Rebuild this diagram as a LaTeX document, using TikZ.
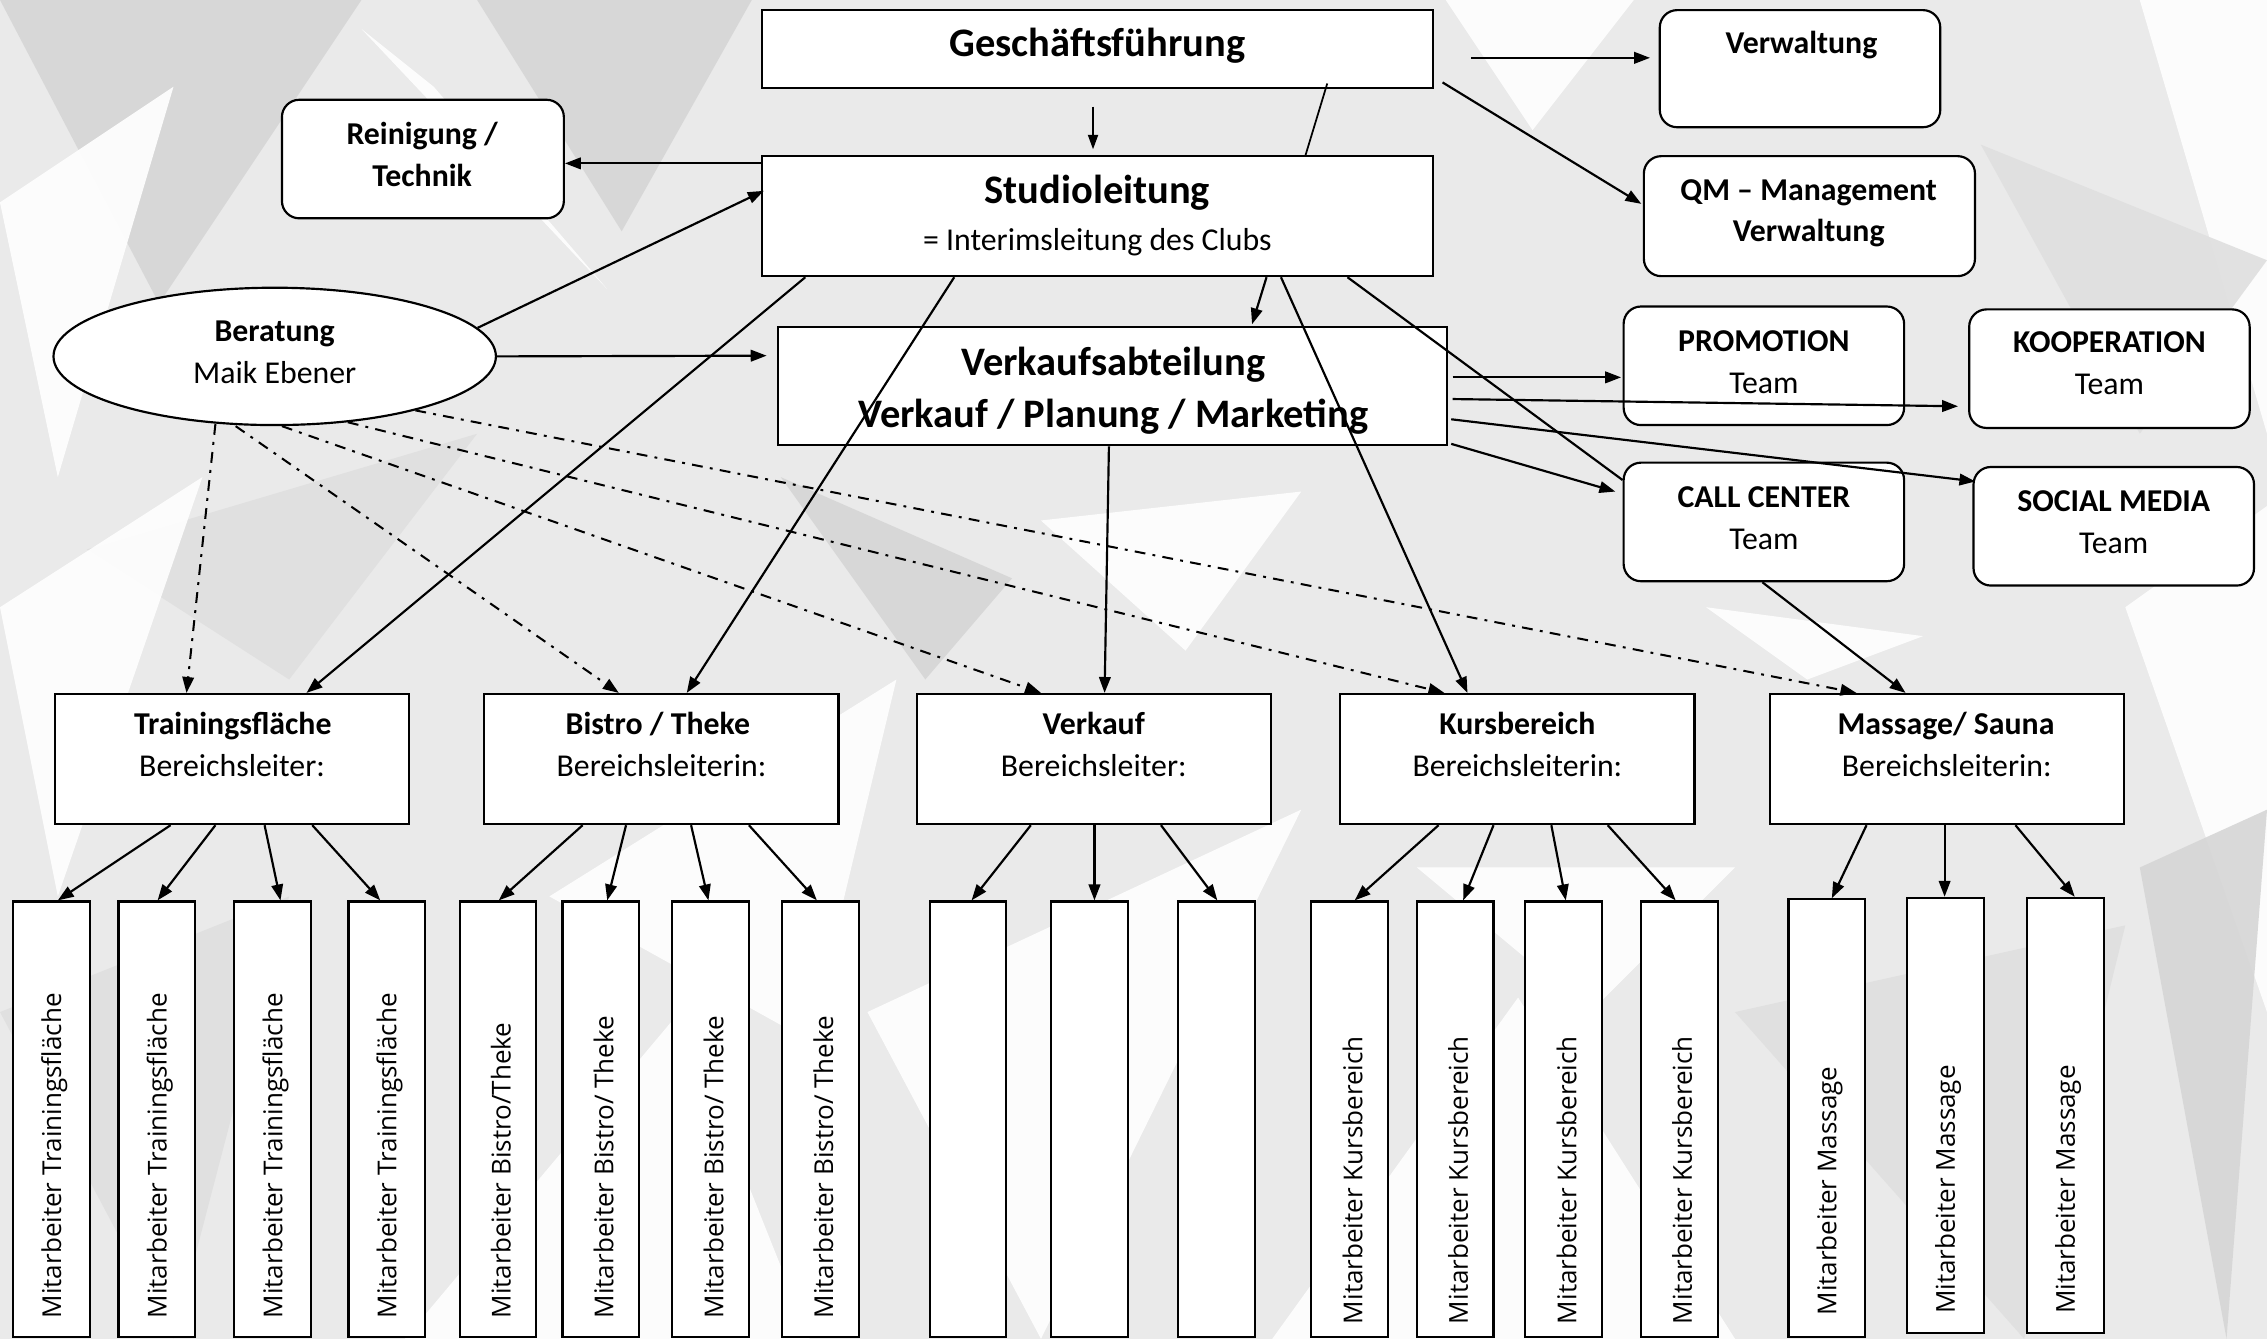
\documentclass[tikz,border=0pt]{standalone}
\usepackage{fontspec}
\setmainfont{Carlito}
\newfontfamily\verd{Open Sans}
\usetikzlibrary{arrows.meta,shapes.geometric}
\definecolor{bgbase}{RGB}{234,234,234}
\definecolor{bgdark}{RGB}{214,214,214}
\definecolor{bgmid}{RGB}{223,223,223}
\begin{document}
\begin{tikzpicture}[x=1pt,y=-1pt,
  box/.style={draw=black, fill=white, line width=1.5pt, inner sep=0pt},
  rbox/.style={box, rounded corners=12pt},
  conn/.style={line width=1.5pt, -{Triangle[length=11pt,width=8pt]}},
  dd/.style={line width=1.4pt, dash pattern=on 7.5pt off 5pt on 2pt off 5pt, -{Triangle[length=11pt,width=8pt]}},
  big/.style={font=\fontsize{28}{32}\selectfont\bfseries, anchor=base, inner sep=0pt},
  sb/.style={font=\fontsize{22}{26}\selectfont\bfseries, anchor=base, inner sep=0pt},
  sm/.style={font=\fontsize{22}{26}\selectfont, anchor=base, inner sep=0pt},
  vt/.style={font=\verd\fontsize{18}{21}\selectfont, rotate=90, anchor=west, inner sep=0pt}
]
\useasboundingbox (0,0) rectangle (1568,926);
% background texture
\fill[bgbase] (0,0) rectangle (1568,926);
\begin{scope}[opacity=0.9]
\fill[bgdark] (0,0) -- (250,0) -- (110,210) -- cycle;
\fill[white] (0,140) -- (120,60) -- (40,330) -- cycle;
\fill[bgdark] (330,0) -- (520,0) -- (430,160) -- cycle;
\fill[white] (250,20) -- (420,200) -- (300,60) -- cycle;
\fill[bgmid] (60,380) -- (330,300) -- (200,470) -- cycle;
\fill[white] (0,420) -- (140,330) -- (40,620) -- cycle;
\fill[white] (380,620) -- (620,470) -- (560,720) -- cycle;
\fill[white] (600,700) -- (900,560) -- (720,926) -- cycle;
\fill[bgdark] (540,330) -- (700,400) -- (640,470) -- cycle;
\fill[white] (1000,0) -- (1130,0) -- (1060,90) -- cycle;
\fill[white] (1480,0) -- (1568,0) -- (1568,300) -- cycle;
\fill[bgmid] (1370,100) -- (1568,180) -- (1480,300) -- cycle;
\fill[white] (1470,420) -- (1568,350) -- (1568,700) -- cycle;
\fill[white] (280,926) -- (470,700) -- (560,926) -- cycle;
\fill[white] (880,926) -- (1050,690) -- (1200,926) -- cycle;
\fill[bgdark] (1480,600) -- (1568,560) -- (1540,926) -- cycle;
\fill[white] (1180,420) -- (1330,440) -- (1250,470) -- cycle;
\fill[bgmid] (0,700) -- (200,620) -- (120,926) -- cycle;
\fill[white] (980,600) -- (1200,600) -- (1100,700) -- cycle;
\fill[bgmid] (1200,700) -- (1470,640) -- (1400,926) -- cycle;
\fill[white] (720,360) -- (900,340) -- (820,450) -- cycle;
\end{scope}

% top level
\node[box, minimum width=464pt, minimum height=54pt] (gf) at (759,34) {};
\node[big] (tgf) at (759,39) {Geschäftsführung};
\node[rbox, minimum width=194pt, minimum height=81pt] (verw) at (1245,47.5) {};
\node[sb] (tverw) at (1246,37) {Verwaltung};
\node[rbox, minimum width=195pt, minimum height=82pt] (rein) at (292.5,110) {};
\node[sb] (trein1) at (292,100) {Reinigung /};
\node[sb] (trein2) at (292,129) {Technik};
\node[box, minimum width=464pt, minimum height=83pt] (studio) at (759,149.5) {};
\node[big] (tstudio1) at (759,141) {Studioleitung};
\node[sm] (tstudio2) at (759,173) {= Interimsleitung des Clubs};
\node[rbox, minimum width=229pt, minimum height=83pt] (qm) at (1251.5,149.5) {};
\node[sb] (tqm1) at (1251,139) {QM – Management};
\node[sb] (tqm2) at (1251,167) {Verwaltung};
\node[draw=black, fill=white, ellipse, line width=1.5pt, inner sep=0pt, minimum width=306pt, minimum height=95pt] (bera) at (190,246.5) {};
\node[sb] (tbera1) at (190,236) {Beratung};
\node[sm] (tbera2) at (190,265) {Maik Ebener};
\node[box, minimum width=463pt, minimum height=82pt] (vka) at (769.5,267) {};
\node[big] (tvka1) at (770,260) {Verkaufsabteilung};
\node[big] (tvka2) at (770,296) {Verkauf / Planung / Marketing};
\node[rbox, minimum width=194pt, minimum height=82pt] (promo) at (1220,253) {};
\node[sb] (tpromo1) at (1220,243) {PROMOTION};
\node[sm] (tpromo2) at (1220,272) {Team};
\node[rbox, minimum width=194pt, minimum height=82pt] (koop) at (1459,255) {};
\node[sb] (tkoop1) at (1459,244) {KOOPERATION};
\node[sm] (tkoop2) at (1459,273) {Team};
\node[rbox, minimum width=194pt, minimum height=82pt] (cc) at (1220,361) {};
\node[sb] (tcc1) at (1220,351) {CALL CENTER};
\node[sm] (tcc2) at (1220,380) {Team};
\node[rbox, minimum width=194pt, minimum height=82pt] (soc) at (1462,364) {};
\node[sb] (tsoc1) at (1462,354) {SOCIAL MEDIA};
\node[sm] (tsoc2) at (1462,383) {Team};

% second level
\foreach \n/\cx/\tx/\tt/\st in {l1/160.5/161/{Trainingsfläche}/{Bereichsleiter:}, l2/457.5/455/{Bistro / Theke}/{Bereichsleiterin:}, l3/756.5/756.5/{Verkauf}/{Bereichsleiter:}, l4/1049.5/1049.5/{Kursbereich}/{Bereichsleiterin:}, l5/1346.5/1346/{Massage/ Sauna}/{Bereichsleiterin:}}{
  \node[box, minimum width=245pt, minimum height=90pt] (\n) at (\cx,525) {};
  \node[sb] (\n t1) at (\tx,508) {\tt};
  \node[sm] (\n t2) at (\cx,537) {\st};
}

% third level
\foreach \n/\cx/\cy/\h/\ty/\txt in {
 e1/35.5/774/301/912/{Mitarbeiter Trainingsfläche},
 e2/108.5/774/301/912/{Mitarbeiter Trainingsfläche},
 e3/188.5/774/301/912/{Mitarbeiter Trainingsfläche},
 e4/267.5/774/301/912/{Mitarbeiter Trainingsfläche},
 e5/344.5/774/301/912/{Mitarbeiter Bistro/Theke},
 e6/415.5/774/301/912/{Mitarbeiter Bistro/ Theke},
 e7/491.5/774/301/912/{Mitarbeiter Bistro/ Theke},
 e8/567.5/774/301/912/{Mitarbeiter Bistro/ Theke},
 e9/669.5/774/301/912/{},
 e10/753.5/774/301/912/{},
 e11/841.5/774/301/912/{},
 e12/933.5/774/301/916/{Mitarbeiter Kursbereich},
 e13/1006.5/774/301/916/{Mitarbeiter Kursbereich},
 e14/1081.5/774/301/916/{Mitarbeiter Kursbereich},
 e15/1161.5/774/301/916/{Mitarbeiter Kursbereich},
 e16/1263.5/773.5/303/910/{Mitarbeiter Massage},
 e17/1345.5/771.5/301/909/{Mitarbeiter Massage},
 e18/1428.5/771.5/301/909/{Mitarbeiter Massage}}{
  \node[box, minimum width=53pt, minimum height=\h pt] (\n) at (\cx,\cy) {};
  \node[vt] (\n t) at (\cx+2,\ty) {\txt};
}

% connectors top
\draw[conn] ([shift={(26,6)}]gf.east) -- ([shift={(-6,-7.5)}]verw.west);
\draw[line width=1.1pt, -{Triangle[length=10pt,width=7pt]}] ([shift={(-3,12)}]gf.south) -- ([shift={(-3,-4)}]studio.north);
\draw[line width=1.2pt] ([shift={(159,-4)}]gf.south) -- ([shift={(144,0)}]studio.north);
\draw[conn] ([shift={(6,23)}]gf.east) -- ([shift={(-1,-8.5)}]qm.west);
\draw[conn] ([shift={(0,-36.5)}]studio.west) -- ([shift={(0,3)}]rein.east);
\draw[conn] (bera.8) -- ([shift={(2,-17.5)}]studio.west);
\draw[conn] (bera.east) -- ([shift={(-7,-21)}]vka.west);
\draw[conn] ([shift={(117,0)}]studio.south) -- ([shift={(96.5,-1)}]vka.north);
\draw[conn] ([shift={(-202,0)}]studio.south) -- ([shift={(51.5,0)}]l1.north);
\draw[conn] ([shift={(-99,0)}]studio.south) -- ([shift={(17.5,0)}]l2.north);
\draw[conn] ([shift={(127,0)}]studio.south) -- ([shift={(-34.5,0)}]l4.north);
\draw[conn] ([shift={(-2.5,0)}]vka.south) -- ([shift={(7.5,0)}]l3.north);
\draw[line width=1.5pt] ([shift={(173,0)}]studio.south) -- ([shift={(0,-29)}]cc.west);
\draw[conn] ([shift={(-1,0)}]cc.south) -- ([shift={(-28.5,0)}]l5.north);
\draw[conn] ([shift={(3,-6)}]vka.east) -- ([shift={(-1,8)}]promo.west);
\draw[conn] ([shift={(3,9)}]vka.east) -- ([shift={(-7,26)}]koop.west);
\draw[conn] ([shift={(2,23)}]vka.east) -- ([shift={(2,-31)}]soc.west);
\draw[conn] ([shift={(2,40)}]vka.east) -- ([shift={(-5,-21)}]cc.west);

% dash-dot from Beratung
\draw[dd] ([shift={(-41,-1.5)}]bera.south) -- ([shift={(-31.5,0)}]l1.north);
\draw[dd] ([shift={(-27,0)}]bera.south) -- ([shift={(-29.5,0)}]l2.north);
\draw[dd] ([shift={(5,0)}]bera.south) -- ([shift={(-36.5,0)}]l3.north);
\draw[dd] (bera.-42) -- ([shift={(-50.5,0)}]l4.north);
\draw[dd] (bera.-21.5) -- ([shift={(-62.5,0)}]l5.north);

% second to third level
\foreach \a/\sa/\b/\sb in {
 l1/-42.5/e1/4.5, l1/-11.5/e2/0.5, l1/22.5/e3/5.5, l1/55.5/e4/-4.5,
 l2/-54.5/e5/0.5, l2/-24.5/e6/4.5, l2/20.5/e7/-1.5, l2/60.5/e8/-2.5,
 l3/-43.5/e9/2.5, l3/0.5/e10/3.5, l3/46.5/e11/0.5,
 l4/-54.5/e12/3.5, l4/-16.5/e13/5.5, l4/23.5/e14/1.5, l4/62.5/e15/-2.5,
 l5/-55.5/e16/3.5, l5/-1.5/e17/-0.5, l5/47.5/e18/6.5}{
  \draw[conn] ([shift={(\sa,0)}]\a.south) -- ([shift={(\sb,0)}]\b.north);
}
\end{tikzpicture}
\end{document}
